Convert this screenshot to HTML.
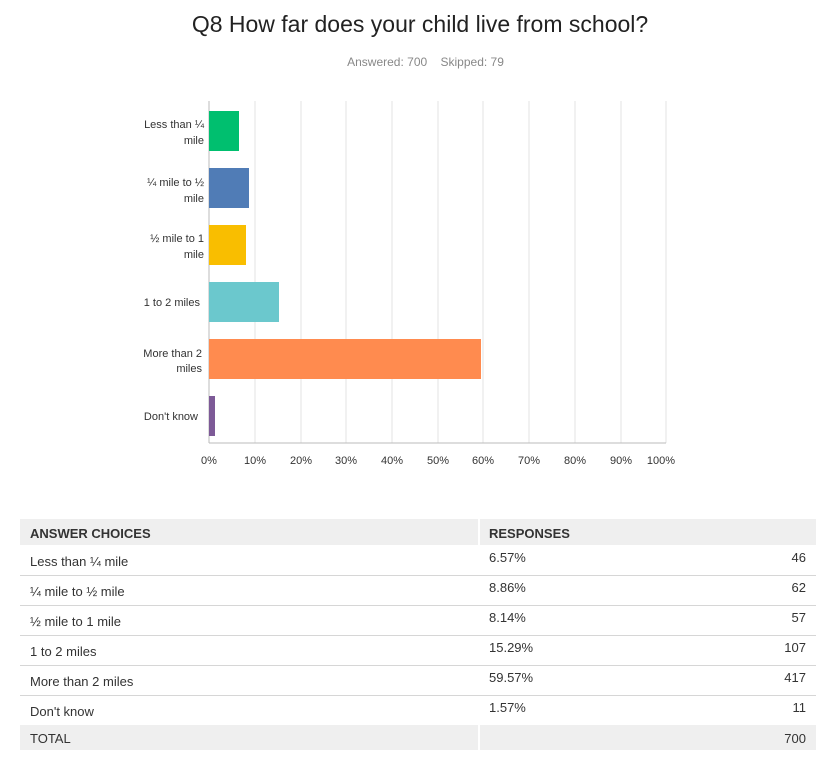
<!DOCTYPE html>
<html><head><meta charset="utf-8"><style>
body{margin:0;width:831px;height:772px;background:#fff;font-family:"Liberation Sans",sans-serif;position:relative;overflow:hidden;color:#333}
.a{position:absolute;white-space:nowrap}
.t{font-size:13px;color:#333}
</style></head><body>
<div class="a" style="left:0;width:840px;top:11px;text-align:center;font-size:23px;color:#222">Q8 How far does your child live from school?</div>
<div class="a" style="left:0;width:851px;top:55px;text-align:center;font-size:12px;color:#888">Answered: 700&nbsp;&nbsp;&nbsp;&nbsp;Skipped: 79</div>
<svg class="a" style="left:0;top:0" width="831" height="480" font-family="Liberation Sans, sans-serif">
<g stroke="#e3e3e3" stroke-width="1">
<line x1="255" y1="101" x2="255" y2="443"/><line x1="301" y1="101" x2="301" y2="443"/><line x1="346" y1="101" x2="346" y2="443"/><line x1="392" y1="101" x2="392" y2="443"/><line x1="438" y1="101" x2="438" y2="443"/><line x1="483" y1="101" x2="483" y2="443"/><line x1="529" y1="101" x2="529" y2="443"/><line x1="575" y1="101" x2="575" y2="443"/><line x1="621" y1="101" x2="621" y2="443"/><line x1="666" y1="101" x2="666" y2="443"/>
</g>
<line x1="209" y1="101" x2="209" y2="443" stroke="#bbb"/>
<line x1="209" y1="443" x2="666" y2="443" stroke="#bbb"/>
<rect x="209" y="111" width="30" height="40" fill="#00bf6f"/>
<rect x="209" y="168" width="40" height="40" fill="#507cb6"/>
<rect x="209" y="225" width="37" height="40" fill="#f9be00"/>
<rect x="209" y="282" width="70" height="40" fill="#6bc8cd"/>
<rect x="209" y="339" width="272" height="40" fill="#ff8b4f"/>
<rect x="209" y="396" width="6" height="40" fill="#7d5a97"/>
<g font-size="11" fill="#333" text-anchor="end">
<text x="204" y="128">Less than ¼</text><text x="204" y="144">mile</text>
<text x="204" y="186">¼ mile to ½</text><text x="204" y="202">mile</text>
<text x="204" y="242">½ mile to 1</text><text x="204" y="258">mile</text>
<text x="200" y="306">1 to 2 miles</text>
<text x="202" y="357">More than 2</text><text x="202" y="372">miles</text>
<text x="198" y="420">Don't know</text>
</g>
<g font-size="11" fill="#333" text-anchor="middle">
<text x="209" y="464">0%</text><text x="255" y="464">10%</text><text x="301" y="464">20%</text><text x="346" y="464">30%</text><text x="392" y="464">40%</text><text x="438" y="464">50%</text><text x="483" y="464">60%</text><text x="529" y="464">70%</text><text x="575" y="464">80%</text><text x="621" y="464">90%</text><text x="661" y="464">100%</text>
</g>
</svg>
<div class="a" style="left:20px;top:519px;width:458px;height:26px;background:#efefef"></div>
<div class="a" style="left:480px;top:519px;width:336px;height:26px;background:#efefef"></div>
<div class="a" style="left:30px;top:526px;font-size:13px;font-weight:bold;color:#333">ANSWER CHOICES</div>
<div class="a" style="left:489px;top:526px;font-size:13px;font-weight:bold;color:#333">RESPONSES</div>
<div class="a" style="left:20px;top:725px;width:458px;height:25px;background:#efefef"></div>
<div class="a" style="left:480px;top:725px;width:336px;height:25px;background:#efefef"></div>
<div class="a" style="left:20px;top:575px;width:796px;border-top:1px solid #d6d6d6"></div>
<div class="a" style="left:20px;top:605px;width:796px;border-top:1px solid #d6d6d6"></div>
<div class="a" style="left:20px;top:635px;width:796px;border-top:1px solid #d6d6d6"></div>
<div class="a" style="left:20px;top:665px;width:796px;border-top:1px solid #d6d6d6"></div>
<div class="a" style="left:20px;top:695px;width:796px;border-top:1px solid #d6d6d6"></div>
<div class="a t" style="left:30px;top:554px">Less than ¼ mile</div>
<div class="a t" style="left:30px;top:584px">¼ mile to ½ mile</div>
<div class="a t" style="left:30px;top:614px">½ mile to 1 mile</div>
<div class="a t" style="left:30px;top:644px">1 to 2 miles</div>
<div class="a t" style="left:30px;top:674px">More than 2 miles</div>
<div class="a t" style="left:30px;top:704px">Don't know</div>
<div class="a t" style="left:30px;top:731px">TOTAL</div>
<div class="a t" style="left:489px;top:550px">6.57%</div>
<div class="a t" style="left:489px;top:580px">8.86%</div>
<div class="a t" style="left:489px;top:610px">8.14%</div>
<div class="a t" style="left:489px;top:640px">15.29%</div>
<div class="a t" style="left:489px;top:670px">59.57%</div>
<div class="a t" style="left:489px;top:700px">1.57%</div>
<div class="a t" style="right:25px;top:550px">46</div>
<div class="a t" style="right:25px;top:580px">62</div>
<div class="a t" style="right:25px;top:610px">57</div>
<div class="a t" style="right:25px;top:640px">107</div>
<div class="a t" style="right:25px;top:670px">417</div>
<div class="a t" style="right:25px;top:700px">11</div>
<div class="a t" style="right:25px;top:731px">700</div>
</body></html>
